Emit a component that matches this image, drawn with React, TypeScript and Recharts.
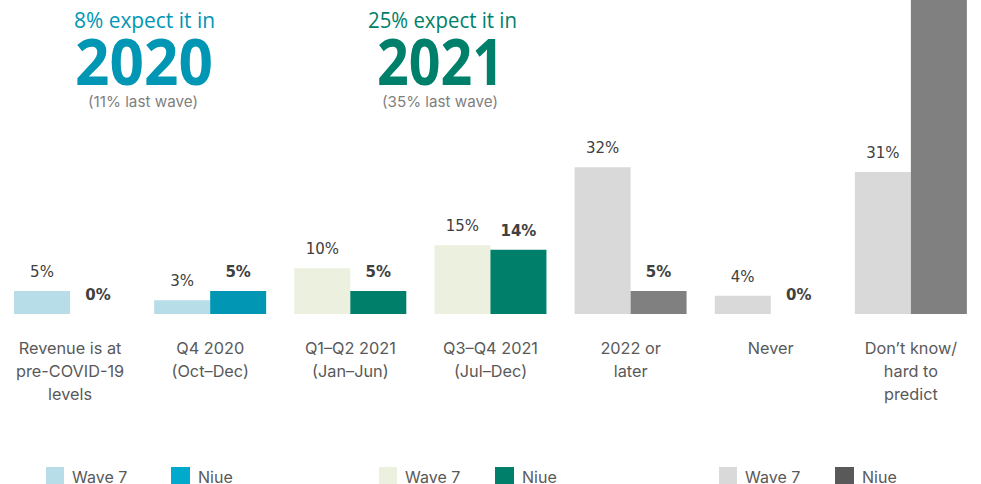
import React from 'react';
import { BarChart, Bar, XAxis, YAxis, Cell, LabelList, Legend, Customized } from 'recharts';

const categories = [
  'Revenue is at\npre-COVID-19\nlevels',
  'Q4 2020\n(Oct–Dec)',
  'Q1–Q2 2021\n(Jan–Jun)',
  'Q3–Q4 2021\n(Jul–Dec)',
  '2022 or\nlater',
  'Never',
  'Don’t know/\nhard to\npredict',
];
const wave7Values = [5, 3, 10, 15, 32, 4, 31];
const niueValues = [0, 5, 5, 14, 5, 0, 71];

const wave7Colors = ['#B7DDE8', '#B7DDE8', '#EBF1DE', '#EBF1DE', '#D9D9D9', '#D9D9D9', '#D9D9D9'];
const niueColors = ['#0096B4', '#0096B4', '#00806A', '#00806A', '#808080', '#808080', '#808080'];

const seriesNames = ['Wave 7', 'Niue'];
const legendWaveColors = ['#B7DDE8', '#EBF1DE', '#D9D9D9'];
const legendNiueColors = ['#00AACC', '#00806A', '#595959'];

const annotationHeads = ['8% expect it in', '25% expect it in'];
const annotationYears = ['2020', '2021'];
const annotationNotes = ['(11% last wave)', '(35% last wave)'];
const annotationColors = ['#0096B4', '#00806A'];

const data = categories.map((name, i) => ({ name, wave7: wave7Values[i], niue: niueValues[i] }));

const TEXT_FONT = 'Inter, "Noto Sans", sans-serif';
const LABEL_FONT = '"DejaVu Sans", sans-serif';

const CategoryTick = (props: any) => {
  const { x, y, payload } = props;
  const lines = String(payload.value).split('\n');
  return (
    <g>
      {lines.map((l: string, i: number) => (
        <text key={i} x={x} y={y + 40 + i * 23} textAnchor="middle" fill="#595959" fontFamily={TEXT_FONT} fontSize={16.3}>
          {l}
        </text>
      ))}
    </g>
  );
};

const Annotations = () => {
  const layout = [
    { head: [74, 141], year: [75, 138], note: [88, 110] },
    { head: [368, 149], year: [377, 127], note: [382, 116] },
  ];
  return (
    <g>
      {layout.map((p, i) => (
        <g key={i}>
          <text x={p.head[0]} y={28} textLength={p.head[1]} lengthAdjust="spacingAndGlyphs" fill={annotationColors[i]} fontFamily='"Open Sans", sans-serif' fontSize={21}>
            {annotationHeads[i]}
          </text>
          <text x={p.year[0]} y={85} textLength={p.year[1]} lengthAdjust="spacingAndGlyphs" fill={annotationColors[i]} fontFamily='"Open Sans", sans-serif' fontWeight={700} fontSize={65}>
            {annotationYears[i]}
          </text>
          <text x={p.note[0]} y={107} textLength={p.note[1]} lengthAdjust="spacingAndGlyphs" fill="#7F7F7F" fontFamily={TEXT_FONT} fontSize={15}>
            {annotationNotes[i]}
          </text>
        </g>
      ))}
    </g>
  );
};

const LegendBox = () => {
  const groups = [
    { wx: 46, nx: 171 },
    { wx: 379, nx: 495 },
    { wx: 719, nx: 835 },
  ];
  const text: React.CSSProperties = {
    position: 'absolute', top: 2, fontFamily: TEXT_FONT, fontSize: 16, color: '#595959', lineHeight: '17px', whiteSpace: 'nowrap',
  };
  return (
    <div style={{ position: 'relative', width: 981, height: 17 }}>
      {groups.map((g, i) => (
        <React.Fragment key={i}>
          <div style={{ position: 'absolute', left: g.wx, top: 0, width: 18, height: 18, background: legendWaveColors[i] }} />
          <span style={{ ...text, left: g.wx + 26 }}>{seriesNames[0]}</span>
          <div style={{ position: 'absolute', left: g.nx, top: 0, width: 19, height: 18, background: legendNiueColors[i] }} />
          <span style={{ ...text, left: g.nx + 27 }}>{seriesNames[1]}</span>
        </React.Fragment>
      ))}
    </div>
  );
};

export default function App() {
  return (
    <div style={{ position: 'absolute', left: 0, top: 0, width: 981, height: 484, overflow: 'hidden', background: '#fff' }}>
      <BarChart
        width={981}
        height={484}
        data={data}
        margin={{ top: 0, right: 0, left: 0, bottom: 53 }}
        barCategoryGap="10%"
        barGap={0}
      >
        <XAxis dataKey="name" axisLine={false} tickLine={false} tickSize={0} tickMargin={0} interval={0} height={100} tick={<CategoryTick />} />
        <YAxis hide domain={[0, 68.5]} allowDataOverflow />
        <Bar dataKey="wave7" isAnimationActive={false}>
          {data.map((_, i) => (
            <Cell key={i} fill={wave7Colors[i]} />
          ))}
          <LabelList dataKey="wave7" position="top" offset={14} formatter={(v: any) => `${v}%`} fill="#404040" fontFamily={LABEL_FONT} fontSize={15} />
        </Bar>
        <Bar dataKey="niue" isAnimationActive={false} minPointSize={0.01}>
          {data.map((_, i) => (
            <Cell key={i} fill={niueColors[i]} />
          ))}
          <LabelList dataKey="niue" position="top" offset={14} formatter={(v: any) => `${v}%`} fill="#404040" fontWeight={700} fontFamily={LABEL_FONT} fontSize={15} />
        </Bar>
        <Legend
          verticalAlign="bottom"
          content={() => <LegendBox />}
          wrapperStyle={{ position: 'absolute', left: 0, top: 467, bottom: 'auto', width: 981, height: 17 }}
        />
        <Customized component={Annotations} />
      </BarChart>
    </div>
  );
}
